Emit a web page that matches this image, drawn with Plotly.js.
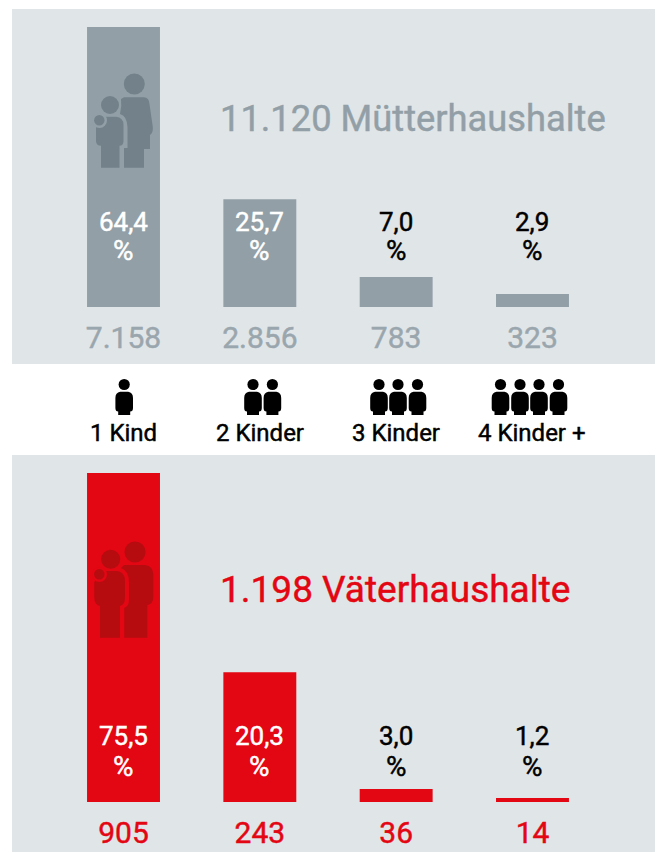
<!DOCTYPE html>
<html>
<head>
<meta charset="utf-8">
<script src="https://cdn.plot.ly/plotly-3.0.1.min.js"></script>
<style>html,body{margin:0;padding:0;background:#fff}#c{width:657px;height:852px}</style>
</head>
<body>
<div id="c"></div>
<script>
// ---- data ----
var categories = ['1 Kind', '2 Kinder', '3 Kinder', '4 Kinder +'];
var childIconCounts = [1, 2, 3, 4];
// printed percentages and counts
var motherPctLabels = ['64,4', '25,7', '7,0', '2,9'];
var fatherPctLabels = ['75,5', '20,3', '3,0', '1,2'];
var motherCounts = ['7.158', '2.856', '783', '323'];
var fatherCounts = ['905', '243', '36', '14'];
// drawn bar heights in percent units (the original graphic is not strictly to scale)
var motherBarHeights = [64.4, 24.8, 6.9, 3.0];
var fatherBarHeights = [75.5, 29.8, 3.0, 0.92];
var motherTitle = '11.120 Mütterhaushalte';
var fatherTitle = '1.198 Väterhaushalte';

// ---- style ----
var W = 657, H = 852;
var FONT = 'Roboto, sans-serif';
var BG = '#e0e5e8', GREY = '#929fa7', GREY_DARK = '#73828a', GREY_TEXT = '#9aa6ad';
var RED = '#e30613', RED_DARK = '#b60c10';

function px(x) { return x / W; }
function py(y) { return 1 - y / H; }
function pathOf(cmds) {
  return cmds.map(function (c) {
    if (c.length === 1) return c[0];
    var s = c[0], parts = [];
    for (var i = 1; i < c.length; i += 2) parts.push(px(c[i]) + ',' + py(c[i + 1]));
    return s + parts.join(' ');
  }).join(' ');
}
function pathShape(cmds, color) {
  return { type: 'path', xref: 'paper', yref: 'paper', path: pathOf(cmds), fillcolor: color, line: { width: 0 }, layer: 'above' };
}
function circle(cx, cy, r, color) {
  return { type: 'circle', xref: 'paper', yref: 'paper', x0: px(cx - r), x1: px(cx + r), y0: py(cy + r), y1: py(cy - r),
           fillcolor: color, line: { width: 0 }, layer: 'above' };
}
function rect(x0, y0, x1, y1, color) {
  return { type: 'rect', xref: 'paper', yref: 'paper', x0: px(x0), x1: px(x1), y0: py(y1), y1: py(y0),
           fillcolor: color, line: { width: 0 }, layer: 'below' };
}

var shapes = [rect(12, 9, 655, 364, BG), rect(12, 455, 655, 852, BG)];

// mother and children pictogram
function motherIcon(c, bar) {
  return [
    circle(134.3, 84, 10.5, c),
    pathShape([['M', 124, 97.3], ['L', 144, 97.3], ['Q', 149, 97.5, 149.5, 104], ['L', 152.8, 127], ['Q', 153.2, 133, 150, 135],
      ['L', 150, 149], ['L', 144, 149], ['L', 144, 167.7], ['L', 124, 167.7], ['L', 124, 148], ['L', 127.5, 148], ['L', 127.5, 127],
      ['Q', 127, 116, 120, 114], ['Q', 122, 106, 121, 99], ['Z']], c),
    circle(110, 105, 9, c),
    pathShape([['M', 104, 116.8], ['L', 116, 116.8], ['Q', 123.5, 117.5, 123.5, 125], ['L', 123.5, 141], ['Q', 123.5, 145.5, 119.5, 145.8],
      ['L', 119.5, 167.7], ['L', 101, 167.7], ['L', 101, 145.8], ['Q', 96, 145.5, 96, 141], ['L', 96, 127], ['Z']], c),
    circle(99.5, 120.5, 7.5, bar),
    circle(99.3, 120.3, 5.2, c)
  ];
}
// father and children pictogram
function fatherIcon(c, bar) {
  return [
    circle(135, 552, 10.5, c),
    pathShape([['M', 124, 565], ['L', 145, 565], ['Q', 153.3, 566, 153.3, 575], ['L', 153.3, 597], ['Q', 153.3, 604, 147.3, 605],
      ['L', 147.3, 637.7], ['L', 124.3, 637.7], ['L', 124.3, 608], ['Q', 129, 606, 129, 600], ['L', 129, 582],
      ['Q', 129, 571, 121, 568], ['Z']], c),
    circle(110.7, 559.3, 9.5, c),
    pathShape([['M', 103, 571], ['L', 116, 571], ['Q', 125, 571.5, 125, 581], ['L', 125, 597], ['Q', 125, 605, 120, 606],
      ['L', 120, 637.7], ['L', 100, 637.7], ['L', 100, 606], ['Q', 94.3, 605, 94.3, 597], ['L', 94.3, 582], ['Z']], c),
    circle(99.5, 574.5, 7.5, bar),
    circle(99.3, 574.3, 5.2, c)
  ];
}
shapes = shapes.concat(motherIcon(GREY_DARK, GREY), fatherIcon(RED_DARK, RED));

// small child pictograms of the middle row
var iconCentres = [[124.2], [253, 272.4], [379, 398, 417.5], [500.5, 520, 539, 558.5]];
function childIcon(cx) {
  return [
    circle(cx, 384.5, 5.6, '#000'),
    pathShape([['M', cx - 4, 391.7], ['L', cx + 4, 391.7], ['Q', cx + 8.8, 392.5, cx + 8.8, 398], ['L', cx + 8.8, 408],
      ['Q', cx + 8.8, 411.5, cx + 6, 411.5], ['L', cx + 6, 415], ['L', cx - 6, 415], ['L', cx - 6, 411.5],
      ['Q', cx - 8.8, 411.5, cx - 8.8, 408], ['L', cx - 8.8, 398], ['Q', cx - 8.8, 392.5, cx - 4, 391.7], ['Z']], '#000')
  ];
}
iconCentres.forEach(function (row, i) {
  for (var k = 0; k < childIconCounts[i]; k++) shapes = shapes.concat(childIcon(row[k]));
});

// ---- text ----
var annotations = [];
function note(text, xref, x, y, size, color, anchor) {
  annotations.push({ text: text, xref: xref, x: x, yref: 'paper', y: py(y), xanchor: anchor || 'center', yanchor: 'middle',
    showarrow: false, font: { family: FONT, size: size, color: color }, borderpad: 0, borderwidth: 0 });
}
function pctRow(labels, xref, yNum, yPct, insideCount) {
  labels.forEach(function (t, i) {
    var col = i < insideCount ? '#fff' : '#000';
    note(t, xref, categories[i], yNum, 26, col);
    note('%', xref, categories[i], yPct, 28, col);
  });
}
pctRow(motherPctLabels, 'x', 222, 251, 2);
pctRow(fatherPctLabels, 'x2', 736, 766, 2);
note(motherTitle, 'paper', px(220), 118, 36.3, GREY, 'left');
note(fatherTitle, 'paper', px(220), 589, 37, RED, 'left');
categories.forEach(function (c, i) { note(c, 'x', c, 432.5, 24, '#000'); });

// ---- traces ----
var traces = [
  { type: 'bar', x: categories, y: motherBarHeights, xaxis: 'x', yaxis: 'y', marker: { color: GREY, line: { width: 0 } }, hoverinfo: 'skip' },
  { type: 'bar', x: categories, y: fatherBarHeights, xaxis: 'x2', yaxis: 'y2', marker: { color: RED, line: { width: 0 } }, hoverinfo: 'skip' }
];

function xAxis(counts, color, anchor) {
  return {
    type: 'category', categoryorder: 'array', categoryarray: categories, anchor: anchor,
    domain: [px(55.35), px(600.65)], range: [-0.5, 3.5], tickmode: 'array', tickvals: categories, ticktext: counts,
    ticks: 'outside', ticklen: 4, tickcolor: 'rgba(0,0,0,0)', tickfont: { family: FONT, size: 30, color: color },
    showgrid: false, zeroline: false, showline: false, fixedrange: true
  };
}
function yAxis(top, bottom, max, anchor) {
  return { domain: [py(bottom), py(top)], range: [0, max], visible: false, fixedrange: true, anchor: anchor };
}

var layout = {
  width: W, height: H, margin: { l: 0, r: 0, t: 0, b: 0, pad: 0 }, autosize: false, showlegend: false,
  paper_bgcolor: '#ffffff', plot_bgcolor: 'rgba(0,0,0,0)', bargap: 0.465,
  xaxis: xAxis(motherCounts, GREY_TEXT, 'y'), yaxis: yAxis(27, 307, 64.4, 'x'),
  xaxis2: xAxis(fatherCounts, RED, 'y2'), yaxis2: yAxis(473, 802, 75.5, 'x2'),
  shapes: shapes, annotations: annotations
};
Plotly.newPlot('c', traces, layout, { displayModeBar: false, staticPlot: true }).then(function () {
  // the reference type sits between regular and bold: thicken regular strokes slightly
  document.querySelectorAll('#c text').forEach(function (t) {
    t.style.stroke = t.style.fill;
    t.style.strokeWidth = '0.45px';
  });
});
</script>
</body>
</html>
